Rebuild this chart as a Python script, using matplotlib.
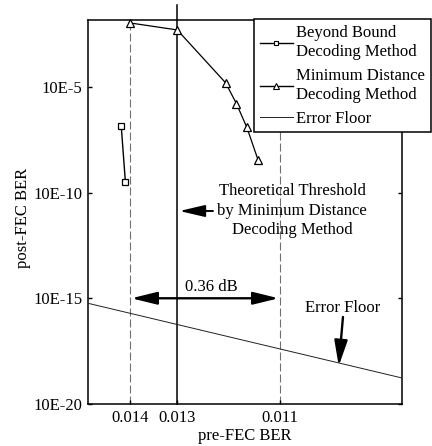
import numpy as np
import matplotlib
matplotlib.use("Agg")
import matplotlib.pyplot as plt
from matplotlib.lines import Line2D
from statistics import NormalDist

plt.rcParams['font.family'] = ['Liberation Serif', 'DejaVu Serif']
plt.rcParams['font.size'] = 12

# ---- data ----
bbd_pre = [0.01419, 0.01410]
bbd_post = [1.4e-7, 3.3e-10]

mdd_pre = [0.01400, 0.01300, 0.01203, 0.01182, 0.01162, 0.01141]
mdd_post = [1.05e-2, 4.9e-3, 1.55e-5, 1.6e-6, 1.2e-7, 3.6e-9]

floor_pre = [0.01493, 0.00892]
floor_post = [5.8e-16, 1.7e-19]

x_ticks = [0.014, 0.013, 0.011]
x_ticklabels = ['0.014', '0.013', '0.011']
y_ticks = [1e-20, 1e-15, 1e-10, 1e-5]
y_ticklabels = ['10E-20', '10E-15', '10E-10', '10E-5']

threshold_bbd = 0.014
threshold_mdd = 0.013
threshold_ref = 0.011
gap_level = 1e-15

ND = NormalDist()


def fwd(b):
    # negative Q-factor in dB: increasing with BER
    b = np.asarray(b, dtype=float)
    flat = b.ravel()
    out = np.empty_like(flat)
    for i, v in enumerate(flat):
        if not np.isfinite(v):
            out[i] = np.nan
        else:
            v = min(max(v, 1e-12), 0.4999)
            out[i] = -20 * np.log10(ND.inv_cdf(1 - v))
    return out.reshape(b.shape)


def inv(d):
    d = np.asarray(d, dtype=float)
    flat = d.ravel()
    out = np.empty_like(flat)
    for i, v in enumerate(flat):
        if not np.isfinite(v):
            out[i] = np.nan
        else:
            out[i] = 1 - ND.cdf(10 ** (-v / 20))
    return out.reshape(d.shape)


fig = plt.figure(figsize=(4.32, 4.46), dpi=100)
ax = fig.add_axes([88/432, 1-404/446, 314/432, 384/446])
ax.set_xscale('function', functions=(fwd, inv))
ax.set_yscale('log')
ax.set_xlim(0.01493, 0.00892)
ax.set_ylim(1e-20, 10**-1.84)

ax.set_xticks(x_ticks)
ax.set_xticklabels(x_ticklabels)
ax.set_yticks(y_ticks)
ax.set_yticklabels(y_ticklabels)
ax.xaxis.set_minor_locator(matplotlib.ticker.NullLocator())
ax.yaxis.set_minor_locator(matplotlib.ticker.NullLocator())
ax.tick_params(direction='in', length=3, width=1, right=True, labelsize=12, pad=4)
for s in ax.spines.values():
    s.set_linewidth(1.1)

# reference lines
ax.axvline(threshold_bbd, color='#707070', lw=0.8, dashes=(7.2, 2.7), zorder=1)
ax.axvline(threshold_ref, color='#707070', lw=0.8, dashes=(7.2, 2.7), zorder=1)
ax.axvline(threshold_mdd, ymin=0, ymax=1.039, color='k', lw=1.1, clip_on=False, zorder=2)

# series
ax.plot(bbd_pre, bbd_post, color='k', lw=1.0, marker='s', ms=4.5, mfc='white', mec='k', mew=0.9, zorder=3)
ax.plot(mdd_pre, mdd_post, color='k', lw=0.9, marker='^', ms=6, mfc='white', mec='k', mew=0.9, zorder=3, clip_on=False)
ax.plot(floor_pre, floor_post, color='#222222', lw=0.7, zorder=3)

# annotations
ax.annotate('', xy=(threshold_ref, gap_level), xytext=(threshold_bbd, gap_level),
            arrowprops=dict(arrowstyle='<|-|>,head_length=15.5,head_width=3.8', lw=1.7, color='k',
                            shrinkA=1, shrinkB=1, mutation_scale=1))
ax.text(0.393, 0.3034, '0.36 dB', transform=ax.transAxes, ha='center', va='center', fontsize=12)

ax.text(0.650, 0.503, 'Theoretical Threshold\nby Minimum Distance\nDecoding Method',
        transform=ax.transAxes, ha='center', va='center', fontsize=12, linespacing=1.3)
ax.annotate('', xy=(0.291, 0.5026), xytext=(0.398, 0.5026), xycoords='axes fraction',
            textcoords='axes fraction',
            arrowprops=dict(arrowstyle='-|>,head_length=15.5,head_width=3.6', lw=1.4, color='k',
                            shrinkA=0, shrinkB=0, mutation_scale=1))

ax.text(0.8105, 0.2513, 'Error Floor', transform=ax.transAxes, ha='center', va='center', fontsize=12)
ax.annotate('', xy=(0.7985, 0.099), xytext=(0.812, 0.2266), xycoords='axes fraction',
            textcoords='axes fraction',
            arrowprops=dict(arrowstyle='-|>,head_length=15.5,head_width=4.0', lw=1.7, color='k',
                            shrinkA=0, shrinkB=0, mutation_scale=1))

ax.set_xlabel('pre-FEC BER', fontsize=12)
ax.set_ylabel('post-FEC BER', fontsize=12)
ax.xaxis.set_label_coords(0.5, -0.063)
ax.yaxis.set_label_coords(-0.181, 0.484)

handles = [
    Line2D([], [], color='k', lw=1.0, marker='s', ms=3.4, mfc='white', mec='k', mew=0.8),
    Line2D([], [], color='k', lw=1.0, marker='^', ms=4.0, mfc='white', mec='k', mew=0.8),
    Line2D([], [], color='#222222', lw=0.7),
]
labels = ['Beyond Bound\nDecoding Method', 'Minimum Distance\nDecoding Method', 'Error Floor']
leg = ax.legend(handles, labels, loc='upper right', bbox_to_anchor=(431/432, 1-19/446),
                bbox_transform=fig.transFigure, borderaxespad=0, fancybox=False, framealpha=1,
                edgecolor='k', fontsize=12, handlelength=2.0, handletextpad=0.2,
                labelspacing=0.45, borderpad=0.35)
leg.get_frame().set_linewidth(1.1)
leg.set_zorder(10)
for t in leg.get_texts():
    t.set_linespacing(1.28)

fig.savefig('out.png', dpi=100)
